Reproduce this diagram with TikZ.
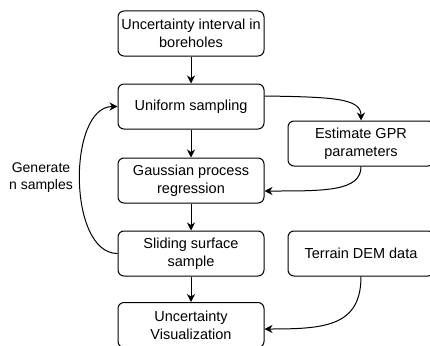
\documentclass[tikz,border=0pt]{standalone}
\usepackage{fontspec}
\setmainfont{Liberation Sans}
\usetikzlibrary{arrows.meta}

\begin{document}
\begin{tikzpicture}[x=1pt, y=-1pt,
    box/.style={draw, rounded corners=6pt, line width=1pt,
      minimum width=146pt, minimum height=45pt, inner sep=1pt,
      align=center, font=\fontsize{14.5}{18}\selectfont},
    lbl/.style={align=center, font=\fontsize{14}{17}\selectfont},
    arr/.style={-{Stealth[length=8pt, width=8pt, inset=2.5pt]}, line width=1pt}]
    \def \cx {191} % x of the main column
    \def \rx {361} % x of the side column
    \useasboundingbox (0,0) rectangle (430,345);
    % main column
    \node[box] (bore)  at (\cx,33.5)  {Uncertainty interval in\\boreholes};
    \node[box] (unif)  at (\cx,106.5) {Uniform sampling};
    \node[box] (gpr)   at (\cx,180.5) {Gaussian process\\regression};
    \node[box] (slide) at (\cx,253.5) {Sliding surface\\sample};
    \node[box] (viz)   at (\cx,325)   {Uncertainty\\Visualization};
    % side column
    \node[box] (param) at (\rx,143.5) {Estimate GPR\\parameters};
    \node[box] (dem)   at (\rx,253.5) {Terrain DEM data};
    \node[lbl] (gen)   at (41,178)    {Generate\\n samples};
    \draw[arr] (bore) -- (unif);
    \draw[arr] (unif) -- (gpr);
    \draw[arr] (gpr) -- (slide);
    \draw[arr] (slide) -- (viz);
    \draw[arr] ([yshift=10.5pt]unif.east) .. controls +(70,1) and +(0,-22) .. (param.north);
    \draw[arr] (param.south) .. controls +(0,25) and +(60,0) .. ([yshift=-10.5pt]gpr.east);
    \draw[arr] (dem.south) .. controls +(0,50) and +(60,0) .. ([yshift=-4pt]viz.east);
    \draw[arr] (slide.west) .. controls +(-50,0) and +(-50,0) .. (unif.west);
\end{tikzpicture}
\end{document}
